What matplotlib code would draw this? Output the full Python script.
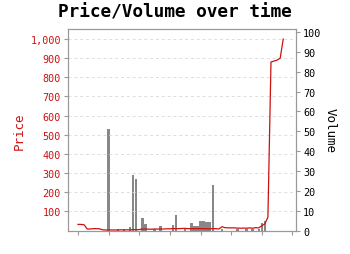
import matplotlib
matplotlib.use("Agg")
import matplotlib.pyplot as plt
from matplotlib.ticker import FuncFormatter, MultipleLocator

# Day index 0..67
price = [32, 32, 30, 8, 8, 10, 10, 9, 4, 3,
         3, 3, 3, 3, 4, 3, 4, 3, 5, 4,
         5, 8, 8, 7, 7, 8, 8, 8, 8, 9,
         9, 10, 10, 10, 11, 11, 10, 10, 10, 10,
         10, 10, 9, 9, 10, 10, 8, 20, 15, 14,
         14, 14, 13, 12, 13, 12, 14, 12, 15, 14,
         25, 35, 70, 880, 885, 890, 900, 1000]
vol_days = [10, 13, 15, 17, 18, 19, 21, 22, 25, 27, 31, 32, 35, 37, 38, 39,
            40, 41, 42, 43, 44, 47, 52, 55, 57, 59, 60, 61]
volume = [51, 0.6, 0.6, 1.7, 28, 26, 6.5, 3.5, 0.6, 2.5, 3, 8, 0.6, 4, 2.5, 2.5,
          5, 5, 4.3, 4.3, 23, 0.6, 0.6, 0.6, 0.6, 0.6, 4, 5]
price_ticks = [100, 200, 300, 400, 500, 600, 700, 800, 900, 1000]
volume_ticks = [0, 10, 20, 30, 40, 50, 60, 70, 80, 90, 100]

mono = "DejaVu Sans Mono"
red = "#cc1111"
gray = "#999999"

fig = plt.figure(figsize=(3.5, 2.55), dpi=100)
ax = fig.add_axes([0.194, 0.092, 0.652, 0.790])
ax2 = ax.twinx()
ax.set_zorder(ax2.get_zorder() + 1)
ax.patch.set_visible(False)

ax2.bar(vol_days, volume, width=0.8, color="#888888", zorder=2)
ax.plot(range(len(price)), price, color=red, linewidth=0.9, zorder=3)

ax.set_xlim(-3.3, 71.2)
ax.set_ylim(0, 1052)
ax2.set_ylim(0, 101.5)

ax.set_yticks(price_ticks)
ax.yaxis.set_major_formatter(FuncFormatter(lambda v, p: f"{int(v):,}"))
ax2.set_yticks(volume_ticks)
ax.xaxis.set_major_locator(MultipleLocator(10))
ax.set_xticklabels([])

for a in (ax, ax2):
    for s in a.spines.values():
        s.set_color(gray)
        s.set_linewidth(0.8)
    a.tick_params(colors=gray, length=3, width=0.8)
ax.tick_params(axis="y", labelcolor=red, labelsize=7.3, pad=2)
ax2.tick_params(axis="y", labelcolor="black", labelsize=7.3, pad=2)
for lbl in ax.get_yticklabels() + ax2.get_yticklabels():
    lbl.set_family(mono)

ax.grid(axis="y", color="#dddddd", linestyle=(0, (3, 3)), linewidth=0.7)
ax.set_axisbelow(True)

ax.set_ylabel("Price", color=red, family=mono, fontsize=9, labelpad=3)
ax2.set_ylabel("Volume", color="black", family=mono, fontsize=9, rotation=-90, labelpad=11)

fig.suptitle("Price/Volume over time", family=mono, fontweight="bold", fontsize=12.8,
             x=0.5, y=0.985)

fig.savefig("out.png", dpi=100)
